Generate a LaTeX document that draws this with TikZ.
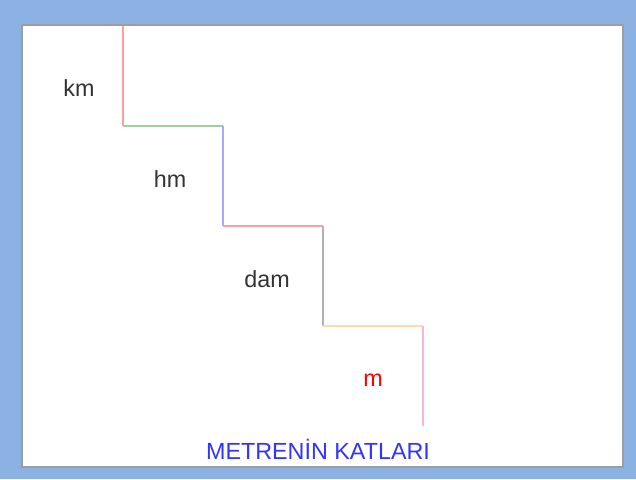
\documentclass[tikz,border=0pt]{standalone}
\usepackage{fontspec}
\setmainfont{Liberation Sans}
\usepackage{tikz}
\usetikzlibrary{calc}
\definecolor{frameblue}{rgb}{0.55,0.70,0.89}
\definecolor{bordergray}{rgb}{0.62,0.62,0.62}
\definecolor{kmred}{rgb}{1.,0.62,0.62}
\definecolor{hmgreen}{rgb}{0.62,0.82,0.62}
\definecolor{hmblue}{rgb}{0.66,0.66,1.}
\definecolor{damgray}{rgb}{0.70,0.70,0.70}
\definecolor{morange}{rgb}{1.,0.86,0.66}
\definecolor{mpink}{rgb}{1.,0.70,0.84}
\definecolor{titleblue}{rgb}{0.2,0.2,1.}
\tikzstyle{every node}=[font=\fontsize{17.5}{20}\selectfont,text=black!80]

\begin{document}
\begin{tikzpicture}[line cap=butt,line join=miter,x=0.75pt,y=-0.75pt]
        \useasboundingbox (0,0) rectangle (636,479);
        \fill[frameblue] (0,0) rectangle (636,479);
        \fill[white,draw=bordergray,line width=2.pt] (22,25) rectangle (623,467);
        % corners of the stairs
        \coordinate (s0) at (123,26);
        \coordinate (s1) at (123,126);
        \coordinate (s2) at (223,126);
        \coordinate (s3) at (223,226);
        \coordinate (s4) at (323,226);
        \coordinate (s5) at (323,326);
        \coordinate (s6) at (423,326);
        \coordinate (s7) at (423,426);
        \draw [line width=1.5pt,color=kmred] (s0) -- (s1);
        \draw [line width=1.5pt,color=hmgreen] (s1) -- (s2);
        \draw [line width=1.5pt,color=hmblue] (s2) -- (s3);
        \draw [line width=1.5pt,color=kmred] (s3) -- (s4);
        \draw [line width=1.5pt,color=damgray] (s4) -- (s5);
        \draw [line width=1.5pt,color=morange] (s5) -- (s6);
        \draw [line width=1.5pt,color=mpink] (s6) -- (s7);
        \node (km) at (79,88) {km};
        \node (hm) at (170,179) {hm};
        \node (dam) at (267,279) {dam};
        \node[text=red] (m) at (373,380) {m};
        \node[text=titleblue] (title) at (318,449) {METRENİN KATLARI};
        \end{tikzpicture}
\end{document}
